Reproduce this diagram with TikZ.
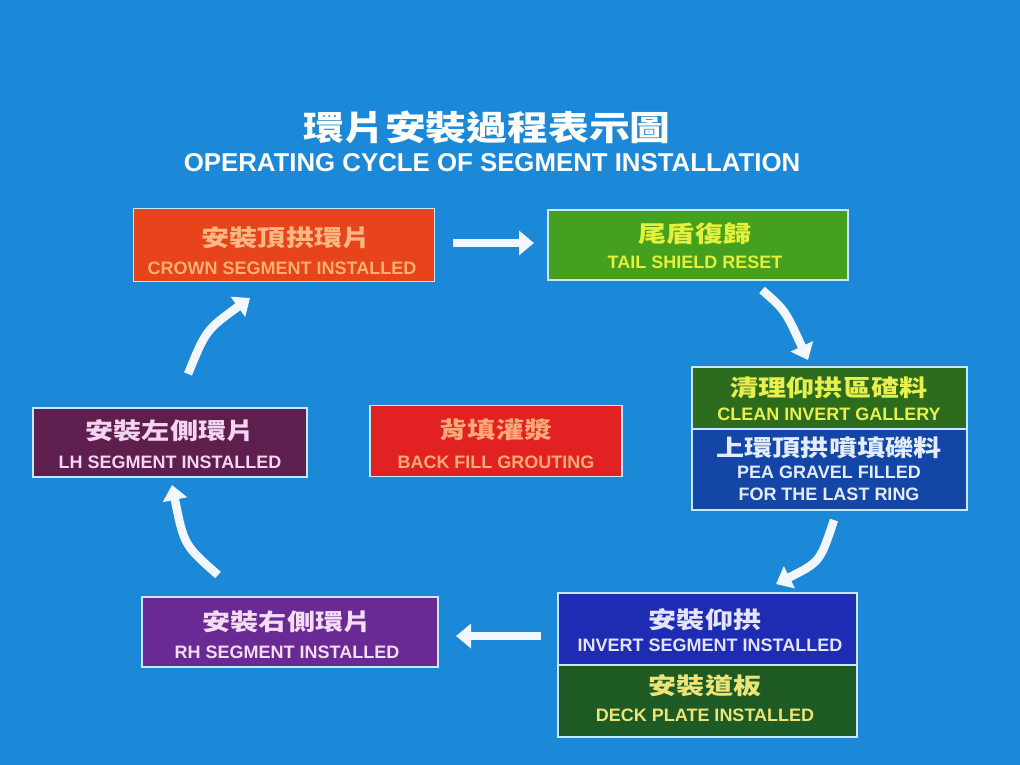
\documentclass[tikz,border=0pt]{standalone}
\usepackage{graphicx}
\usepackage{fontspec}
\setmainfont{Liberation Sans}
\newfontfamily\cjk{Noto Sans CJK TC}
\usetikzlibrary{arrows.meta}
\definecolor{bgblue}{HTML}{1C88D8}
\definecolor{boxedge}{HTML}{C8E8FF}
\definecolor{crownfill}{HTML}{E8441C}
\definecolor{crowntxt}{HTML}{FFB884}
\definecolor{tailfill}{HTML}{44A01E}
\definecolor{tailtxt}{HTML}{E4F03C}
\definecolor{cleanfill}{HTML}{2C6C1C}
\definecolor{cleantxt}{HTML}{E8F050}
\definecolor{peafill}{HTML}{1446A8}
\definecolor{peatxt}{HTML}{E4ECFF}
\definecolor{lhfill}{HTML}{5E1E4E}
\definecolor{lhtxt}{HTML}{F4D4F0}
\definecolor{bffill}{HTML}{E22222}
\definecolor{bftxt}{HTML}{FFA878}
\definecolor{rhfill}{HTML}{6A2A96}
\definecolor{rhtxt}{HTML}{F4DCF4}
\definecolor{invfill}{HTML}{1E2CB4}
\definecolor{invtxt}{HTML}{E4E4FF}
\definecolor{deckfill}{HTML}{1E5A24}
\definecolor{decktxt}{HTML}{ECE478}
\definecolor{arrowwhite}{HTML}{F2F6FF}
\newcommand\zhs[1]{\scalebox{1.22}[1]{#1}}
\tikzset{
  box/.style={draw=boxedge, line width=1.6pt, inner sep=0pt, rectangle},
  zh/.style={font=\cjk\bfseries\fontsize{23}{25}\selectfont, inner sep=0pt},
  en/.style={font=\bfseries\fontsize{18}{20}\selectfont, inner sep=0pt},
  flow/.style={draw=arrowwhite, line width=8.5pt, -{Triangle[length=15pt,width=24pt]}},
}
\begin{document}
\begin{tikzpicture}[x=1pt,y=-1pt]
\fill[bgblue] (0,0) rectangle (1020,765);
\useasboundingbox (0,0) rectangle (1020,765);

% title
\node[font=\cjk\bfseries\fontsize{34}{36}\selectfont, text=white, inner sep=0pt] (t1) at (487,128) {\scalebox{1.2}[1]{環片安裝過程表示圖}};
\node[font=\bfseries\fontsize{25.8}{28}\selectfont, text=white, inner sep=0pt] (t2) at (492,163) {OPERATING CYCLE OF SEGMENT INSTALLATION};

% crown
\node[box, fill=crownfill, minimum width=301pt, minimum height=73pt] (crown) at (284,245) {};
\node[zh, text=crowntxt] (crownzh) at (286,238) {\zhs{安裝頂拱環片}};
\node[en, text=crowntxt!85!orange] (crownen) at (282,268) {CROWN SEGMENT INSTALLED};

% tail shield
\node[box, fill=tailfill, minimum width=300pt, minimum height=70pt] (tail) at (698,245) {};
\node[zh, text=tailtxt] (tailzh) at (695,234) {\zhs{尾盾復歸}};
\node[en, text=tailtxt] (tailen) at (695,262) {TAIL SHIELD RESET};

% clean invert gallery + pea gravel
\node[box, fill=cleanfill, minimum width=275pt, minimum height=62pt] (clean) at (829.5,398) {};
\node[zh, text=cleantxt] (cleanzh) at (829,388) {\zhs{清理仰拱區碴料}};
\node[en, text=cleantxt] (cleanen) at (829,414) {CLEAN INVERT GALLERY};
\node[box, fill=peafill, minimum width=275pt, minimum height=81pt] (pea) at (829.5,469.5) {};
\node[zh, text=peatxt] (peazh) at (829,448) {\zhs{上環頂拱噴填礫料}};
\node[en, text=peatxt] (peaen1) at (829,472) {PEA GRAVEL FILLED};
\node[en, text=peatxt] (peaen2) at (829,494) {FOR THE LAST RING};

% LH
\node[box, fill=lhfill, minimum width=274pt, minimum height=69pt] (lh) at (170,442.5) {};
\node[zh, text=lhtxt] (lhzh) at (170,431) {\zhs{安裝左側環片}};
\node[en, text=lhtxt] (lhen) at (170,462) {LH SEGMENT INSTALLED};

% back fill
\node[box, fill=bffill, minimum width=252pt, minimum height=71pt] (bf) at (496,441) {};
\node[zh, text=bftxt] (bfzh) at (496,430) {\zhs{背填灌漿}};
\node[en, text=bftxt] (bfen) at (496,462) {BACK FILL GROUTING};

% RH
\node[box, fill=rhfill, minimum width=296pt, minimum height=70pt] (rh) at (290,632) {};
\node[zh, text=rhtxt] (rhzh) at (287,622) {\zhs{安裝右側環片}};
\node[en, text=rhtxt] (rhen) at (287,652) {RH SEGMENT INSTALLED};

% invert + deck
\node[box, fill=invfill, minimum width=299pt, minimum height=72pt] (inv) at (707.5,629) {};
\node[zh, text=invtxt] (invzh) at (705,620) {\zhs{安裝仰拱}};
\node[en, text=invtxt] (inven) at (710,645) {INVERT SEGMENT INSTALLED};
\node[box, fill=deckfill, minimum width=299pt, minimum height=72pt] (deck) at (707.5,701) {};
\node[zh, text=decktxt] (deckzh) at (705,686) {\zhs{安裝道板}};
\node[en, text=decktxt] (decken) at (705,715) {DECK PLATE INSTALLED};

% arrow end points
\coordinate (a1s) at (453,243);
\coordinate (a1e) at (534,243);
\coordinate (a2s) at (762,290);
\coordinate (a2e) at (808,360);
\coordinate (a3s) at (834,520);
\coordinate (a3e) at (776,584);
\coordinate (a4s) at (541,636);
\coordinate (a4e) at (456,636);
\coordinate (a5s) at (218,575);
\coordinate (a5e) at (172,485);
\coordinate (a6s) at (188,374);
\coordinate (a6e) at (250,298);

\draw[flow] (a1s) -- (a1e);
\draw[flow] (a2s) .. controls (785,310) .. (a2e);
\draw[flow] (a3s) .. controls (820,562) .. (a3e);
\draw[flow] (a4s) -- (a4e);
\draw[flow] (a5s) .. controls (184,545) .. (a5e);
\draw[flow] (a6s) .. controls (206,330) .. (a6e);
\end{tikzpicture}
\end{document}
